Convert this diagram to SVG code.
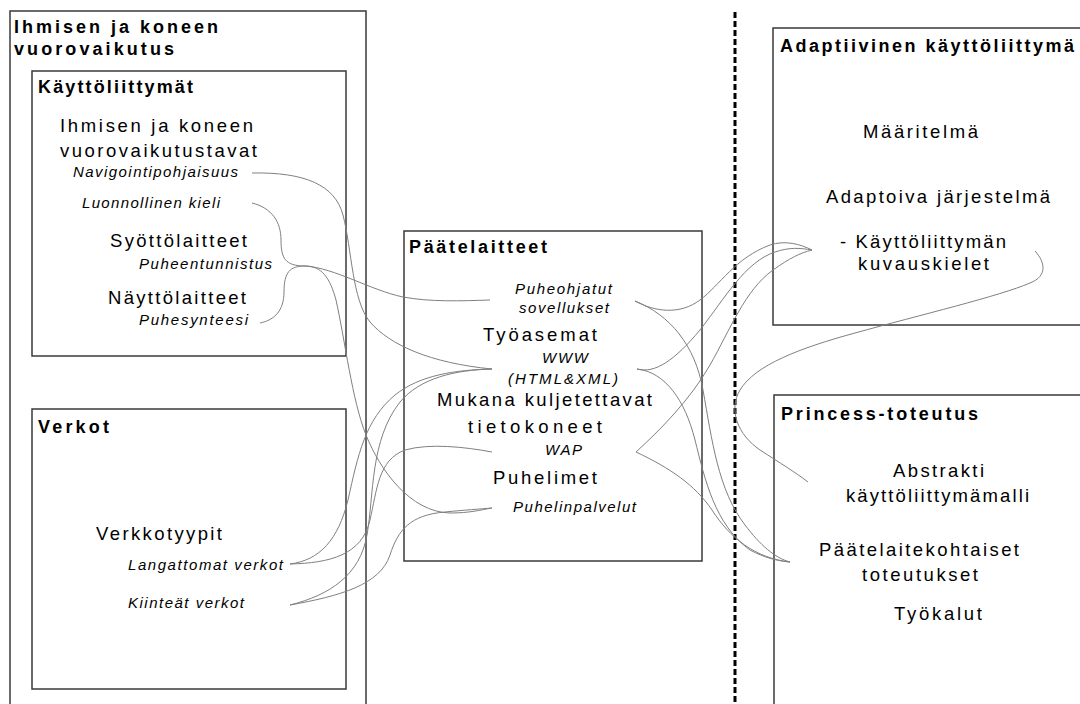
<svg xmlns="http://www.w3.org/2000/svg" width="1080" height="704" viewBox="0 0 1080 704">
  <style>
    text { font-family: "Liberation Sans", Arial, sans-serif; fill: #000; }
    .box { fill: none; stroke: #3a3a3a; stroke-width: 1.5; }
    .title { font-size: 18px; font-weight: bold; }
    .item { font-size: 18.5px; }
    .sub { font-size: 15px; font-style: italic; }
    .link { fill: none; stroke: #808080; stroke-width: 1; }
    .divider { fill: none; stroke: #000; stroke-width: 3; stroke-dasharray: 6 3; }
  </style>

  <rect x="0" y="0" width="1080" height="704" fill="#fff"/>

  <!-- vertical dashed divider -->
  <line class="divider" x1="735" y1="12" x2="735" y2="704"/>

  <!-- outer area: human-computer interaction -->
  <g id="vuorovaikutus">
    <rect class="box" x="10" y="11" width="356" height="720"/>
    <text class="title" x="14" y="33" textLength="204" lengthAdjust="spacing">Ihmisen ja koneen</text>
    <text class="title" x="14" y="55" textLength="160" lengthAdjust="spacing">vuorovaikutus</text>
  </g>

  <g id="kayttoliittymat">
    <rect class="box" x="32" y="71" width="314" height="285"/>
    <text class="title" x="38" y="93" textLength="155" lengthAdjust="spacing">Käyttöliittymät</text>
    <text class="item" x="60" y="132" textLength="193" lengthAdjust="spacing">Ihmisen ja koneen</text>
    <text class="item" x="60" y="157" textLength="197" lengthAdjust="spacing">vuorovaikutustavat</text>
    <text class="sub" x="73" y="177" textLength="165" lengthAdjust="spacing">Navigointipohjaisuus</text>
    <text class="sub" x="82" y="208" textLength="138" lengthAdjust="spacing">Luonnollinen kieli</text>
    <text class="item" x="110" y="247" textLength="137" lengthAdjust="spacing">Syöttölaitteet</text>
    <text class="sub" x="139" y="269" textLength="133" lengthAdjust="spacing">Puheentunnistus</text>
    <text class="item" x="108" y="304" textLength="138" lengthAdjust="spacing">Näyttölaitteet</text>
    <text class="sub" x="139" y="325" textLength="109" lengthAdjust="spacing">Puhesynteesi</text>
  </g>

  <g id="verkot">
    <rect class="box" x="32" y="409" width="314" height="280"/>
    <text class="title" x="38" y="433" textLength="71" lengthAdjust="spacing">Verkot</text>
    <text class="item" x="96" y="540" textLength="126" lengthAdjust="spacing">Verkkotyypit</text>
    <text class="sub" x="128" y="570" textLength="155" lengthAdjust="spacing">Langattomat verkot</text>
    <text class="sub" x="128" y="608" textLength="116" lengthAdjust="spacing">Kiinteät verkot</text>
  </g>

  <g id="paatelaitteet">
    <rect class="box" x="404" y="231" width="298" height="330"/>
    <text class="title" x="409" y="253" textLength="138" lengthAdjust="spacing">Päätelaitteet</text>
    <text class="sub" x="515" y="294" textLength="97" lengthAdjust="spacing">Puheohjatut</text>
    <text class="sub" x="519" y="313" textLength="90" lengthAdjust="spacing">sovellukset</text>
    <text class="item" x="483" y="341" textLength="114" lengthAdjust="spacing">Työasemat</text>
    <text class="sub" x="542" y="363" textLength="46" lengthAdjust="spacing">WWW</text>
    <text class="sub" x="508" y="384" textLength="110" lengthAdjust="spacing">(HTML&amp;XML)</text>
    <text class="item" x="437" y="406" textLength="215" lengthAdjust="spacing">Mukana kuljetettavat</text>
    <text class="item" x="468" y="433" textLength="134" lengthAdjust="spacing">tietokoneet</text>
    <text class="sub" x="545" y="455" textLength="37" lengthAdjust="spacing">WAP</text>
    <text class="item" x="493" y="484" textLength="104" lengthAdjust="spacing">Puhelimet</text>
    <text class="sub" x="513" y="512" textLength="123" lengthAdjust="spacing">Puhelinpalvelut</text>
  </g>

  <g id="adaptiivinen">
    <rect class="box" x="773" y="28" width="330" height="297"/>
    <text class="title" x="780" y="52" textLength="294" lengthAdjust="spacing">Adaptiivinen käyttöliittymä</text>
    <text class="item" x="863" y="138" textLength="115" lengthAdjust="spacing">Määritelmä</text>
    <text class="item" x="826" y="203" textLength="224" lengthAdjust="spacing">Adaptoiva järjestelmä</text>
    <text class="item" x="840" y="248" textLength="166" lengthAdjust="spacing">- Käyttöliittymän</text>
    <text class="item" x="858" y="270" textLength="131" lengthAdjust="spacing">kuvauskielet</text>
  </g>

  <g id="princess">
    <rect class="box" x="774" y="395" width="330" height="340"/>
    <text class="title" x="781" y="420" textLength="197" lengthAdjust="spacing">Princess-toteutus</text>
    <text class="item" x="893" y="477" textLength="91" lengthAdjust="spacing">Abstrakti</text>
    <text class="item" x="846" y="502" textLength="183" lengthAdjust="spacing">käyttöliittymämalli</text>
    <text class="item" x="819" y="556" textLength="200" lengthAdjust="spacing">Päätelaitekohtaiset</text>
    <text class="item" x="862" y="581" textLength="116" lengthAdjust="spacing">toteutukset</text>
    <text class="item" x="894" y="620" textLength="88" lengthAdjust="spacing">Työkalut</text>
  </g>

  <!-- curved links between topics -->
  <g id="connectors">
    <!-- left column to terminals -->
    <path class="link" d="M252,173 C305,172 335,185 343,215 C352,250 352,300 370,322 C390,345 430,363 492,369"/>
    <path class="link" d="M252,203 C272,208 281,222 281,240 C281,258 285,266 305,266 C335,268 370,290 403,297 C430,302 460,301 490,300"/>
    <path class="link" d="M260,323 C275,320 284,310 284,292 C284,272 290,266 305,266 C322,266 330,278 336,300 C345,340 352,400 366,435 C380,470 410,512 450,513 C470,513 480,510 492,508"/>
    <path class="link" d="M290,564 C320,560 338,540 348,500 C358,455 365,420 395,395 C420,375 455,370 492,369"/>
    <path class="link" d="M290,605 C330,595 360,575 367,535 C374,495 370,440 400,402 C420,378 455,370 492,369"/>
    <path class="link" d="M290,564 C330,563 362,555 370,520 C377,490 378,460 405,450 C430,443 465,447 492,452"/>
    <path class="link" d="M290,605 C340,596 380,585 390,555 C398,530 410,515 445,512 C465,510 480,509 492,508"/>
    <!-- terminals to the right column -->
    <path class="link" d="M635,301 C655,312 680,315 700,300 C720,285 735,258 770,245 C785,240 800,244 812,250"/>
    <path class="link" d="M635,301 C670,315 695,345 703,390 C712,440 718,490 745,525 C760,545 775,558 790,562"/>
    <path class="link" d="M637,369 C655,374 675,360 700,330 C725,298 745,262 775,252 C790,247 800,248 812,250"/>
    <path class="link" d="M637,369 C665,372 685,400 695,440 C705,480 715,525 750,550 C765,558 778,561 790,562"/>
    <path class="link" d="M636,452 C660,430 690,400 710,365 C730,330 745,290 773,270 C790,258 800,253 812,250"/>
    <path class="link" d="M636,452 C670,468 695,485 712,510 C730,538 755,558 790,562"/>
    <path class="link" d="M1035,251 C1045,262 1048,276 1030,283 C1000,296 920,315 855,333 C800,348 755,365 740,390 C728,410 738,435 760,450 C780,463 795,472 808,482"/>
  </g>
</svg>
